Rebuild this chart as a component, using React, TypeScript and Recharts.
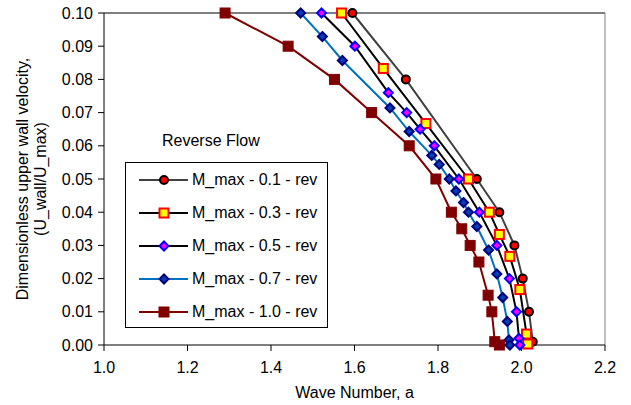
import { LineChart, Line, XAxis, YAxis, ReferenceLine } from "recharts";

// wave number a vs dimensionless upper wall velocity, one pair of arrays per series
const wave01 = [1.595, 1.723, 1.893, 1.947, 1.983, 2.003, 2.018, 2.027];
const vel01 = [0.1, 0.08, 0.05, 0.04, 0.03, 0.02, 0.01, 0.001];

const wave03 = [1.569, 1.669, 1.771, 1.873, 1.923, 1.947, 1.972, 1.996, 2.012, 2.015];
const vel03 = [0.1, 0.0833, 0.0667, 0.05, 0.04, 0.0333, 0.0267, 0.0167, 0.0033, 0.0003];

const wave05 = [1.521, 1.601, 1.681, 1.725, 1.757, 1.791, 1.85, 1.899, 1.941, 1.971, 1.988, 1.994, 1.996];
const vel05 = [0.1, 0.09, 0.076, 0.07, 0.065, 0.06, 0.05, 0.04, 0.03, 0.02, 0.01, 0.002, 0.0];

const wave07 = [
  1.471, 1.523, 1.571, 1.685, 1.731, 1.785, 1.803, 1.827, 1.843, 1.861, 1.873, 1.893, 1.921, 1.941, 1.955, 1.966,
  1.97, 1.972,
];
const vel07 = [
  0.1, 0.0929, 0.0857, 0.0714, 0.0643, 0.0571, 0.0544, 0.05, 0.0464, 0.0429, 0.04, 0.0357, 0.0286, 0.0214, 0.0143,
  0.0071, 0.0015, 0.0,
];

const wave10 = [1.29, 1.441, 1.552, 1.641, 1.731, 1.795, 1.832, 1.857, 1.877, 1.898, 1.92, 1.929, 1.936, 1.947];
const vel10 = [0.1, 0.09, 0.08, 0.07, 0.06, 0.05, 0.04, 0.035, 0.03, 0.025, 0.015, 0.01, 0.001, 0.0];

const xTicks = [1.0, 1.2, 1.4, 1.6, 1.8, 2.0, 2.2];
const yTicks = [0, 0.01, 0.02, 0.03, 0.04, 0.05, 0.06, 0.07, 0.08, 0.09, 0.1];

const FONT = "Arial, 'Liberation Sans', sans-serif";

type Kind = "circle" | "square" | "diamond";

const toPoints = (xs: number[], ys: number[]) => xs.map((a, i) => ({ a, u: ys[i] }));

const series = [
  { name: "M_max - 0.1 - rev", data: toPoints(wave01, vel01), line: "#404040", kind: "circle" as Kind, mStroke: "#000", mFill: "#ff0000" },
  { name: "M_max - 0.3 - rev", data: toPoints(wave03, vel03), line: "#000", kind: "square" as Kind, mStroke: "#ff0000", mFill: "#ffff00" },
  { name: "M_max - 0.5 - rev", data: toPoints(wave05, vel05), line: "#000", kind: "diamond" as Kind, mStroke: "#0000ff", mFill: "#ff00ff" },
  { name: "M_max - 0.7 - rev", data: toPoints(wave07, vel07), line: "#0070c0", kind: "diamond" as Kind, mStroke: "#000080", mFill: "#0040b0" },
  { name: "M_max - 1.0 - rev", data: toPoints(wave10, vel10), line: "#800000", kind: "square" as Kind, mStroke: "#800000", mFill: "#800000", big: true },
];

function Marker({ kind, cx, cy, stroke, fill, big }: any) {
  if (kind === "circle") return <circle cx={cx} cy={cy} r={4} stroke={stroke} strokeWidth={2} fill={fill} />;
  if (kind === "square") {
    const h = big ? 5 : 4.5;
    return (
      <rect x={cx - h} y={cy - h} width={h * 2} height={h * 2} stroke={stroke} strokeWidth={big ? 1 : 2} fill={fill} />
    );
  }
  const d = 4.5;
  return (
    <path
      d={`M${cx},${cy - d}L${cx + d},${cy}L${cx},${cy + d}L${cx - d},${cy}Z`}
      stroke={stroke}
      strokeWidth={2}
      fill={fill}
    />
  );
}

const dotFor = (s: (typeof series)[number]) => (props: any) => {
  const { cx, cy, index } = props;
  return (
    <g key={`${s.name}-${index}`}>
      <Marker kind={s.kind} cx={cx} cy={cy} stroke={s.mStroke} fill={s.mFill} big={s.big} />
    </g>
  );
};

function YTitle() {
  return (
    <g fontFamily={FONT} fontSize={16} fill="#000">
      <text x={22} y={179} transform="rotate(-90 22 179)" textAnchor="middle" dy="0.35em">
        Dimensionless upper wall velocity,
      </text>
      <text x={40} y={179} transform="rotate(-90 40 179)" textAnchor="middle" dy="0.35em">
        (U_wall/U_max)
      </text>
    </g>
  );
}

export default function App() {
  return (
    <div style={{ position: "absolute", left: 0, top: 0, width: 631, height: 405, background: "#fff", fontFamily: FONT }}>
      <LineChart width={631} height={405} margin={{ top: 13, right: 26, bottom: 0, left: 0 }}>
        <XAxis
          type="number"
          dataKey="a"
          domain={[1.0, 2.2]}
          ticks={xTicks}
          tickFormatter={(v: number) => v.toFixed(1)}
          stroke="#000"
          tickSize={6}
          tickMargin={11}
          height={60}
          tick={{ fill: "#000", fontSize: 16, fontFamily: FONT }}
          label={{ value: "Wave Number, a", position: "insideBottom", offset: 7, fill: "#000", fontSize: 16, fontFamily: FONT }}
          allowDuplicatedCategory={false}
        />
        <YAxis
          type="number"
          dataKey="u"
          domain={[0, 0.1]}
          ticks={yTicks}
          tickFormatter={(v: number) => v.toFixed(2)}
          stroke="#000"
          tickSize={6}
          tickMargin={5}
          width={104}
          tick={{ fill: "#000", fontSize: 16, fontFamily: FONT }}
          label={<YTitle />}
        />
        <ReferenceLine y={0.1} stroke="#000" strokeWidth={1} />
        <ReferenceLine x={2.2} stroke="#808080" strokeWidth={1} />
        {series.map((s) => (
          <Line
            key={s.name}
            data={s.data}
            dataKey="u"
            name={s.name}
            type="linear"
            stroke={s.line}
            strokeWidth={2}
            dot={dotFor(s)}
            activeDot={false}
            isAnimationActive={false}
          />
        ))}
      </LineChart>

      <div style={{ position: "absolute", left: 162, top: 133, fontSize: 16, lineHeight: "16px", color: "#000", whiteSpace: "nowrap" }}>
        Reverse Flow
      </div>

      <div
        style={{
          position: "absolute",
          left: 125,
          top: 162,
          width: 201,
          height: 164,
          border: "1px solid #000",
          background: "#fff",
        }}
      >
        {series.map((s) => (
          <div key={s.name} style={{ height: 33, display: "flex", alignItems: "center", fontSize: 16, color: "#000" }}>
            <svg width={66} height={14} style={{ flex: "none" }}>
              <line x1={13} x2={62} y1={7} y2={7} stroke={s.line} strokeWidth={2} />
              <Marker kind={s.kind} cx={38} cy={7} stroke={s.mStroke} fill={s.mFill} big={s.big} />
            </svg>
            <span style={{ whiteSpace: "nowrap" }}>{s.name}</span>
          </div>
        ))}
      </div>
    </div>
  );
}
